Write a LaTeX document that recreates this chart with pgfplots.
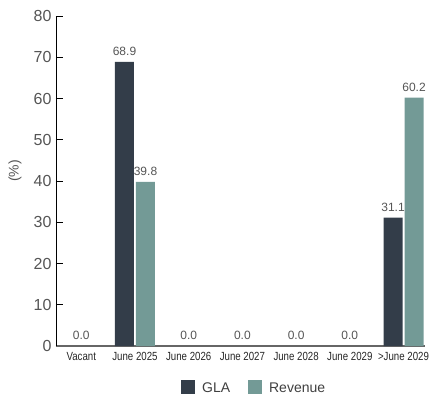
\documentclass[border=0pt]{standalone}
\usepackage{pgfplots}
\pgfplotsset{compat=1.18}
\usepackage{fontspec}
\setmainfont{Liberation Sans}
\newfontfamily\narrowfont[FakeStretch=0.82]{Liberation Sans}
\definecolor{gla}{HTML}{333D49}
\definecolor{rev}{HTML}{739A96}
\definecolor{txt}{HTML}{555555}
\begin{document}
\begin{tikzpicture}
\begin{axis}[
  at={(0,0)}, anchor=south west,
  scale only axis, width=369pt, height=330pt,
  ybar, bar width=19pt,
  ymin=0, ymax=80, ytick={0,10,...,80},
  xmin=-0.471, xmax=6.40,
  xtick={0,...,6},
  xticklabels={Vacant,June 2025,June 2026,June 2027,June 2028,June 2029,>June 2029},
  axis lines=left,
  x axis line style={draw=black!60, line width=1.6pt, -},
  y axis line style={draw=black, line width=0.8pt, -},
  ytick style={draw=black, line width=0.8pt},
  xtick style={draw=none},
  tick align=inside, major tick length=7pt,
  /pgf/number format/assume math mode=true,
  yticklabel style={font=\fontsize{16}{18}\selectfont, text=txt, xshift=-1pt},
  xticklabel style={font=\narrowfont\fontsize{11.8}{13}\selectfont, text=black!85, yshift=-2.5pt},
  ylabel={(\%)}, ylabel style={font=\fontsize{14}{16}\selectfont, text=txt, at={(axis description cs:-0.111,0.53)}, anchor=center},
  nodes near coords,
  nodes near coords style={font=\fontsize{12}{14}\selectfont, text=txt, yshift=3pt, /pgf/number format/.cd, fixed, fixed zerofill, precision=1},
  legend style={at={(0.537,-0.127)}, anchor=center, draw=none, legend columns=2,
    font=\fontsize{14}{16}\selectfont, text=black!75,
    /tikz/every even column/.append style={column sep=16pt}},
  legend image code/.code={\fill[#1] (0pt,-6pt) rectangle (14pt,8pt); \path (19pt,0pt);},
]
\addplot[fill=gla, draw=none, bar shift=-10.5pt] coordinates {(1,68.9) (6,31.1)};
\addlegendentry{GLA}
\addplot[fill=rev, draw=none, bar shift=10.5pt] coordinates {(1,39.8) (6,60.2)};
\addlegendentry{Revenue}
\addplot[fill=none, draw=none, bar shift=0pt, forget plot] coordinates {(0,0) (2,0) (3,0) (4,0) (5,0)};
\end{axis}
\pgfresetboundingbox
\path (-56pt,-50pt) rectangle (377pt,346pt);
\end{tikzpicture}
\end{document}
